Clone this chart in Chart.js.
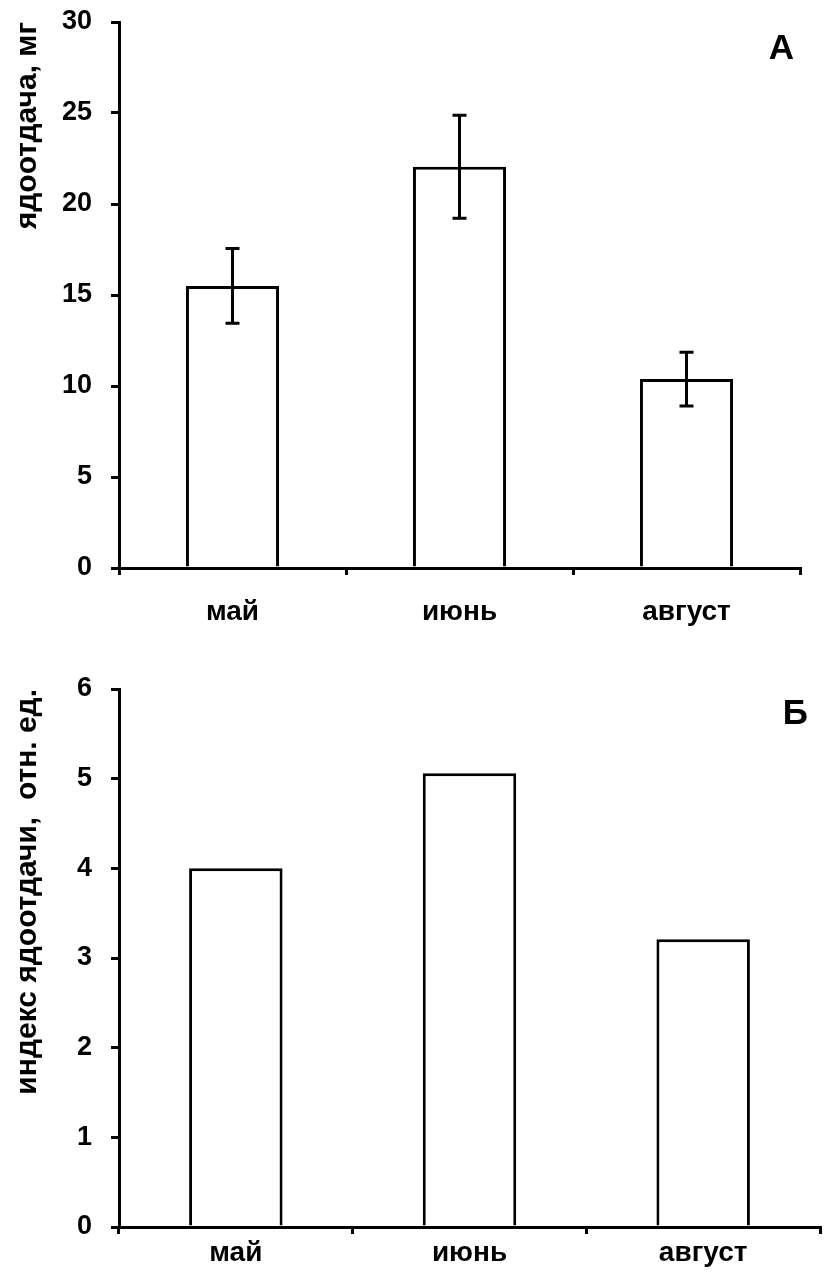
<!DOCTYPE html>
<html>
<head>
<meta charset="utf-8">
<script src="https://cdn.jsdelivr.net/npm/chart.js@4"></script>
<style>
body{margin:0;background:#fff;}
.wrap{position:relative;width:827px;height:1288px;}
.box{position:absolute;left:0;width:827px;}
</style>
</head>
<body>
<div class="wrap">
<div class="box" style="top:0;height:640px"><canvas id="chartA"></canvas></div>
<div class="box" style="top:650px;height:638px"><canvas id="chartB"></canvas></div>
</div>
<script>
const months = ["май", "июнь", "август"];
const venomYield = [15.5, 22.05, 10.38];
const venomErr = [2.05, 2.83, 1.48];
const venomIndex = [4.0, 5.06, 3.21];
const ticksA = [0, 5, 10, 15, 20, 25, 30];
const ticksB = [0, 1, 2, 3, 4, 5, 6];

const FONT = "'Liberation Sans', Arial, sans-serif";

const errorBars = {
    id: "errorBars",
    afterDatasetsDraw(chart, args, opts){
        if(!opts.errors) return;
        const ctx = chart.ctx;
        const meta = chart.getDatasetMeta(0);
        const y = chart.scales.y;
        ctx.save();
        ctx.strokeStyle = "#000";
        ctx.lineWidth = 3;
        meta.data.forEach((bar, i) => {
            const v = chart.data.datasets[0].data[i];
            const e = opts.errors[i];
            const top = y.getPixelForValue(v + e);
            const bot = y.getPixelForValue(v - e);
            ctx.beginPath();
            ctx.moveTo(bar.x, top); ctx.lineTo(bar.x, bot);
            ctx.moveTo(bar.x - 7, top); ctx.lineTo(bar.x + 7, top);
            ctx.moveTo(bar.x - 7, bot); ctx.lineTo(bar.x + 7, bot);
            ctx.stroke();
        });
        ctx.restore();
    }
};

const panelLetter = {
    id: "panelLetter",
    afterDraw(chart, args, opts){
        const ctx = chart.ctx;
        ctx.save();
        ctx.fillStyle = "#000";
        ctx.font = "bold 35px " + FONT;
        ctx.textAlign = "right";
        ctx.textBaseline = "top";
        ctx.fillText(opts.text, chart.chartArea.right + opts.dx, chart.chartArea.top + opts.dy);
        ctx.restore();
    }
};

function makeChart(id, values, tickVals, title, letter, errors, area, canvasH, barPct, labelPad){
    return new Chart(document.getElementById(id), {
        type: "bar",
        data: {
            labels: months,
            datasets: [{
                data: values,
                backgroundColor: "#fff",
                borderColor: "#000",
                borderWidth: 3,
                barPercentage: barPct,
                categoryPercentage: 1
            }]
        },
        options: {
            responsive: true,
            maintainAspectRatio: false,
            animation: false,
            layout: { padding: { top: area.top, right: 827 - area.right, left: 0, bottom: 0 } },
            plugins: {
                legend: { display: false },
                tooltip: { enabled: false },
                errorBars: { errors: errors },
                panelLetter: letter
            },
            scales: {
                x: {
                    grid: { display: true, drawOnChartArea: false, drawTicks: true, tickLength: 7, color: "#000", lineWidth: 3, offset: true },
                    border: { display: true, color: "#000", width: 3 },
                    ticks: { color: "#000", padding: labelPad, font: { family: FONT, size: 28, weight: "bold" } },
                    afterFit(scale){ scale.height = canvasH - area.bottom; scale.paddingLeft = 0; scale.paddingRight = 0; }
                },
                y: {
                    min: tickVals[0],
                    max: tickVals[tickVals.length - 1],
                    afterBuildTicks(scale){ scale.ticks = tickVals.map(v => ({ value: v })); },
                    grid: { display: true, drawOnChartArea: false, drawTicks: true, tickLength: 8, color: "#000", lineWidth: 3 },
                    border: { display: true, color: "#000", width: 3 },
                    ticks: { color: "#000", padding: 19, font: { family: FONT, size: 27, weight: "bold" } },
                    title: { display: true, text: title, align: "end", color: "#000", padding: { top: 10 }, font: { family: FONT, size: 30, weight: "bold" } },
                    afterFit(scale){ scale.width = area.left; scale.paddingTop = 0; scale.paddingBottom = 0; }
                }
            }
        },
        plugins: [errorBars, panelLetter]
    });
}

makeChart("chartA", venomYield, ticksA, "ядоотдача, мг", { text: "А", dx: -6, dy: 10 }, venomErr,
    { left: 119, right: 800, top: 22, bottom: 568 }, 640, 0.41, 20);
makeChart("chartB", venomIndex, ticksB, "индекс ядоотдачи,  отн. ед.", { text: "Б", dx: -12, dy: 8 }, null,
    { left: 119, right: 820, top: 39, bottom: 577 }, 638, 0.40, 2);
</script>
</body>
</html>
